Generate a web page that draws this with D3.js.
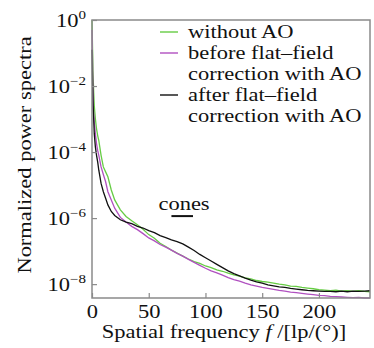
<!DOCTYPE html>
<html>
<head>
<meta charset="utf-8">
<script src="https://cdn.jsdelivr.net/npm/d3@7"></script>
<style>
  body { margin: 0; background: #fff; }
  svg text { font-family: "Liberation Serif", "Times New Roman", serif; fill: #111; }
</style>
</head>
<body>
<svg id="chart" width="374" height="348"></svg>
<script>
// spatial frequency samples, lp/deg
var freq = [0, 0.5, 1, 1.5, 2, 3, 4, 5, 6, 8, 10, 12, 14, 17, 20, 25, 30, 35, 40, 45,
  50, 55, 60, 65, 70, 75, 80, 85, 90, 95, 100, 105, 110, 115, 120, 125, 130, 135, 140, 145,
  150, 155, 160, 165, 170, 175, 180, 185, 190, 195, 200, 205, 210, 215, 220, 225, 230, 235, 240, 245];

// log10 of normalized power
var withoutAO = [0, -0.9, -1.7, -2.2, -2.6, -3.0, -3.3, -3.5, -3.65, -4.1, -4.45, -4.6, -4.75, -5.15, -5.45, -5.75, -5.95, -6.08, -6.2, -6.34,
  -6.5, -6.61, -6.76, -6.86, -6.97, -7.06, -7.15, -7.24, -7.32, -7.37, -7.45, -7.5, -7.57, -7.61, -7.67, -7.72, -7.76, -7.81, -7.84, -7.89,
  -7.92, -7.94, -7.97, -8.0, -8.02, -8.06, -8.07, -8.1, -8.12, -8.14, -8.17, -8.18, -8.2, -8.18, -8.21, -8.2, -8.22, -8.2, -8.22, -8.23];

var beforeFF = [-0.3, -1.3, -2.5, -2.9, -3.1, -3.45, -3.75, -3.95, -4.1, -4.45, -4.68, -4.9, -5.2, -5.45, -5.7, -5.98, -6.12, -6.25, -6.35, -6.47,
  -6.6, -6.69, -6.8, -6.88, -6.97, -7.07, -7.15, -7.25, -7.34, -7.43, -7.52, -7.6, -7.66, -7.73, -7.8, -7.86, -7.91, -7.97, -8.02, -8.06,
  -8.1, -8.13, -8.16, -8.19, -8.21, -8.24, -8.26, -8.28, -8.3, -8.32, -8.34, -8.35, -8.37, -8.38, -8.39, -8.4, -8.41, -8.4, -8.42, -8.42];

var afterFF = [-0.9, -1.9, -2.6, -3.0, -3.45, -3.85, -4.1, -4.3, -4.55, -4.95, -5.2, -5.4, -5.6, -5.8, -5.92, -6.05, -6.12, -6.17, -6.25, -6.3,
  -6.38, -6.44, -6.53, -6.59, -6.66, -6.71, -6.78, -6.88, -6.98, -7.1, -7.2, -7.3, -7.4, -7.5, -7.6, -7.68, -7.75, -7.82, -7.88, -7.93,
  -7.97, -8.02, -8.05, -8.08, -8.1, -8.13, -8.15, -8.17, -8.19, -8.2, -8.21, -8.22, -8.22, -8.23, -8.21, -8.23, -8.21, -8.22, -8.21, -8.2];

var seriesNames = ["without AO", "before flat\u2013field\ncorrection with AO", "after flat\u2013field\ncorrection with AO"];
var seriesColors = ["#66cc44", "#b050c0", "#111111"];

var xTicks = [0, 50, 100, 150, 200];
var yTickExp = [0, -2, -4, -6, -8];

var conesBand = [70, 89];
var conesLevel = 1.15e-6;

var width = 374, height = 348;
var margin = {left: 92, right: 4, top: 20, bottom: 50};
var sx = 1.25; // the original typeface runs wide

var svg = d3.select("#chart");

var x = d3.scaleLinear()
    .domain([0, 245])
    .range([margin.left, width - margin.right]);

var y = d3.scaleLog()
    .domain([Math.pow(10, -8.42), 1])
    .range([height - margin.bottom, margin.top]);

var series = [withoutAO, beforeFF, afterFF].map(function(vals, i) {
  return {
    name: seriesNames[i],
    color: seriesColors[i],
    values: freq.map(function(f, j) { return {f: f, v: Math.pow(10, vals[j])}; })
  };
});

/* lines */
var line = d3.line()
    .x(d => x(d.f))
    .y(d => y(d.v));

svg.append("g")
  .selectAll("path")
  .data(series).enter()
  .append("path")
  .attr("d", d => line(d.values))
  .attr("fill", "none")
  .attr("stroke", d => d.color)
  .attr("stroke-width", 1.3);

/* frame */
svg.append("rect")
  .attr("x", x(0)).attr("y", y(1))
  .attr("width", x(245) - x(0))
  .attr("height", y.range()[0] - y.range()[1])
  .attr("fill", "none")
  .attr("stroke", "#8a8a8a")
  .attr("stroke-width", 1.5);

/* axes with inward ticks */
var xAxis = d3.axisBottom(x).tickValues(xTicks).tickSizeInner(-5).tickSizeOuter(0).tickFormat("");
var gx = svg.append("g")
  .attr("transform", `translate(0, ${y.range()[0]})`)
  .call(xAxis);
gx.select(".domain").remove();
gx.selectAll(".tick line").attr("stroke", "#8a8a8a").attr("stroke-width", 1.2);
gx.selectAll(".tick text").remove();
gx.selectAll(".tick").append("text")
  .attr("transform", `translate(0, 20) scale(${sx}, 1)`)
  .attr("text-anchor", "middle")
  .attr("font-size", 18)
  .text(d => d);

var yAxis = d3.axisLeft(y)
  .tickValues(yTickExp.map(e => Math.pow(10, e)))
  .tickSizeInner(-5).tickSizeOuter(0)
  .tickFormat("");
var gy = svg.append("g")
  .attr("transform", `translate(${x(0)}, 0)`)
  .call(yAxis);
gy.select(".domain").remove();
gy.selectAll(".tick line").attr("stroke", "#8a8a8a").attr("stroke-width", 1.2);
gy.selectAll(".tick text").remove();
gy.selectAll(".tick").each(function(d, i) {
  var t = d3.select(this).append("text")
    .attr("transform", `translate(-6, 6) scale(${sx}, 1)`)
    .attr("text-anchor", "end")
    .attr("font-size", 18);
  t.append("tspan").text("10");
  t.append("tspan")
    .attr("dy", -8)
    .attr("font-size", 12)
    .text(yTickExp[i] === 0 ? "0" : "\u2212" + Math.abs(yTickExp[i]));
});

/* axis titles */
svg.append("text")
  .attr("transform", `translate(31, ${(y.range()[0] + y.range()[1]) / 2 - 4}) rotate(-90) scale(${sx}, 1)`)
  .attr("text-anchor", "middle")
  .attr("font-size", 18)
  .text("Normalized power spectra");

var xl = svg.append("text")
  .attr("transform", `translate(${(x.range()[0] + x.range()[1]) / 2 - 7}, 338) scale(${sx}, 1)`)
  .attr("text-anchor", "middle")
  .attr("font-size", 18);
xl.append("tspan").text("Spatial frequency ");
xl.append("tspan").attr("font-style", "italic").text("f");
xl.append("tspan").text(" /[lp/(\u00b0)]");

/* legend */
var legendRows = [];
series.forEach(function(s, i) {
  s.name.split("\n").forEach(function(txt, k) {
    legendRows.push({text: txt, color: k === 0 ? s.color : null});
  });
});
var legend = svg.append("g");
legendRows.forEach(function(r, i) {
  var base = 38 + i * 21;
  if (r.color) {
    legend.append("line")
      .attr("x1", 160).attr("x2", 178)
      .attr("y1", base - 6).attr("y2", base - 6)
      .attr("stroke", r.color)
      .attr("stroke-width", 1.4);
  }
  legend.append("text")
    .attr("transform", `translate(188, ${base}) scale(${sx}, 1)`)
    .attr("font-size", 18)
    .text(r.text);
});

/* cones annotation */
svg.append("line")
  .attr("x1", x(conesBand[0])).attr("x2", x(conesBand[1]))
  .attr("y1", y(conesLevel)).attr("y2", y(conesLevel))
  .attr("stroke", "#111")
  .attr("stroke-width", 2);
svg.append("text")
  .attr("transform", `translate(${x(conesBand[0]) - 13}, ${y(conesLevel) - 6}) scale(${sx}, 1)`)
  .attr("font-size", 18)
  .text("cones");
</script>
</body>
</html>
